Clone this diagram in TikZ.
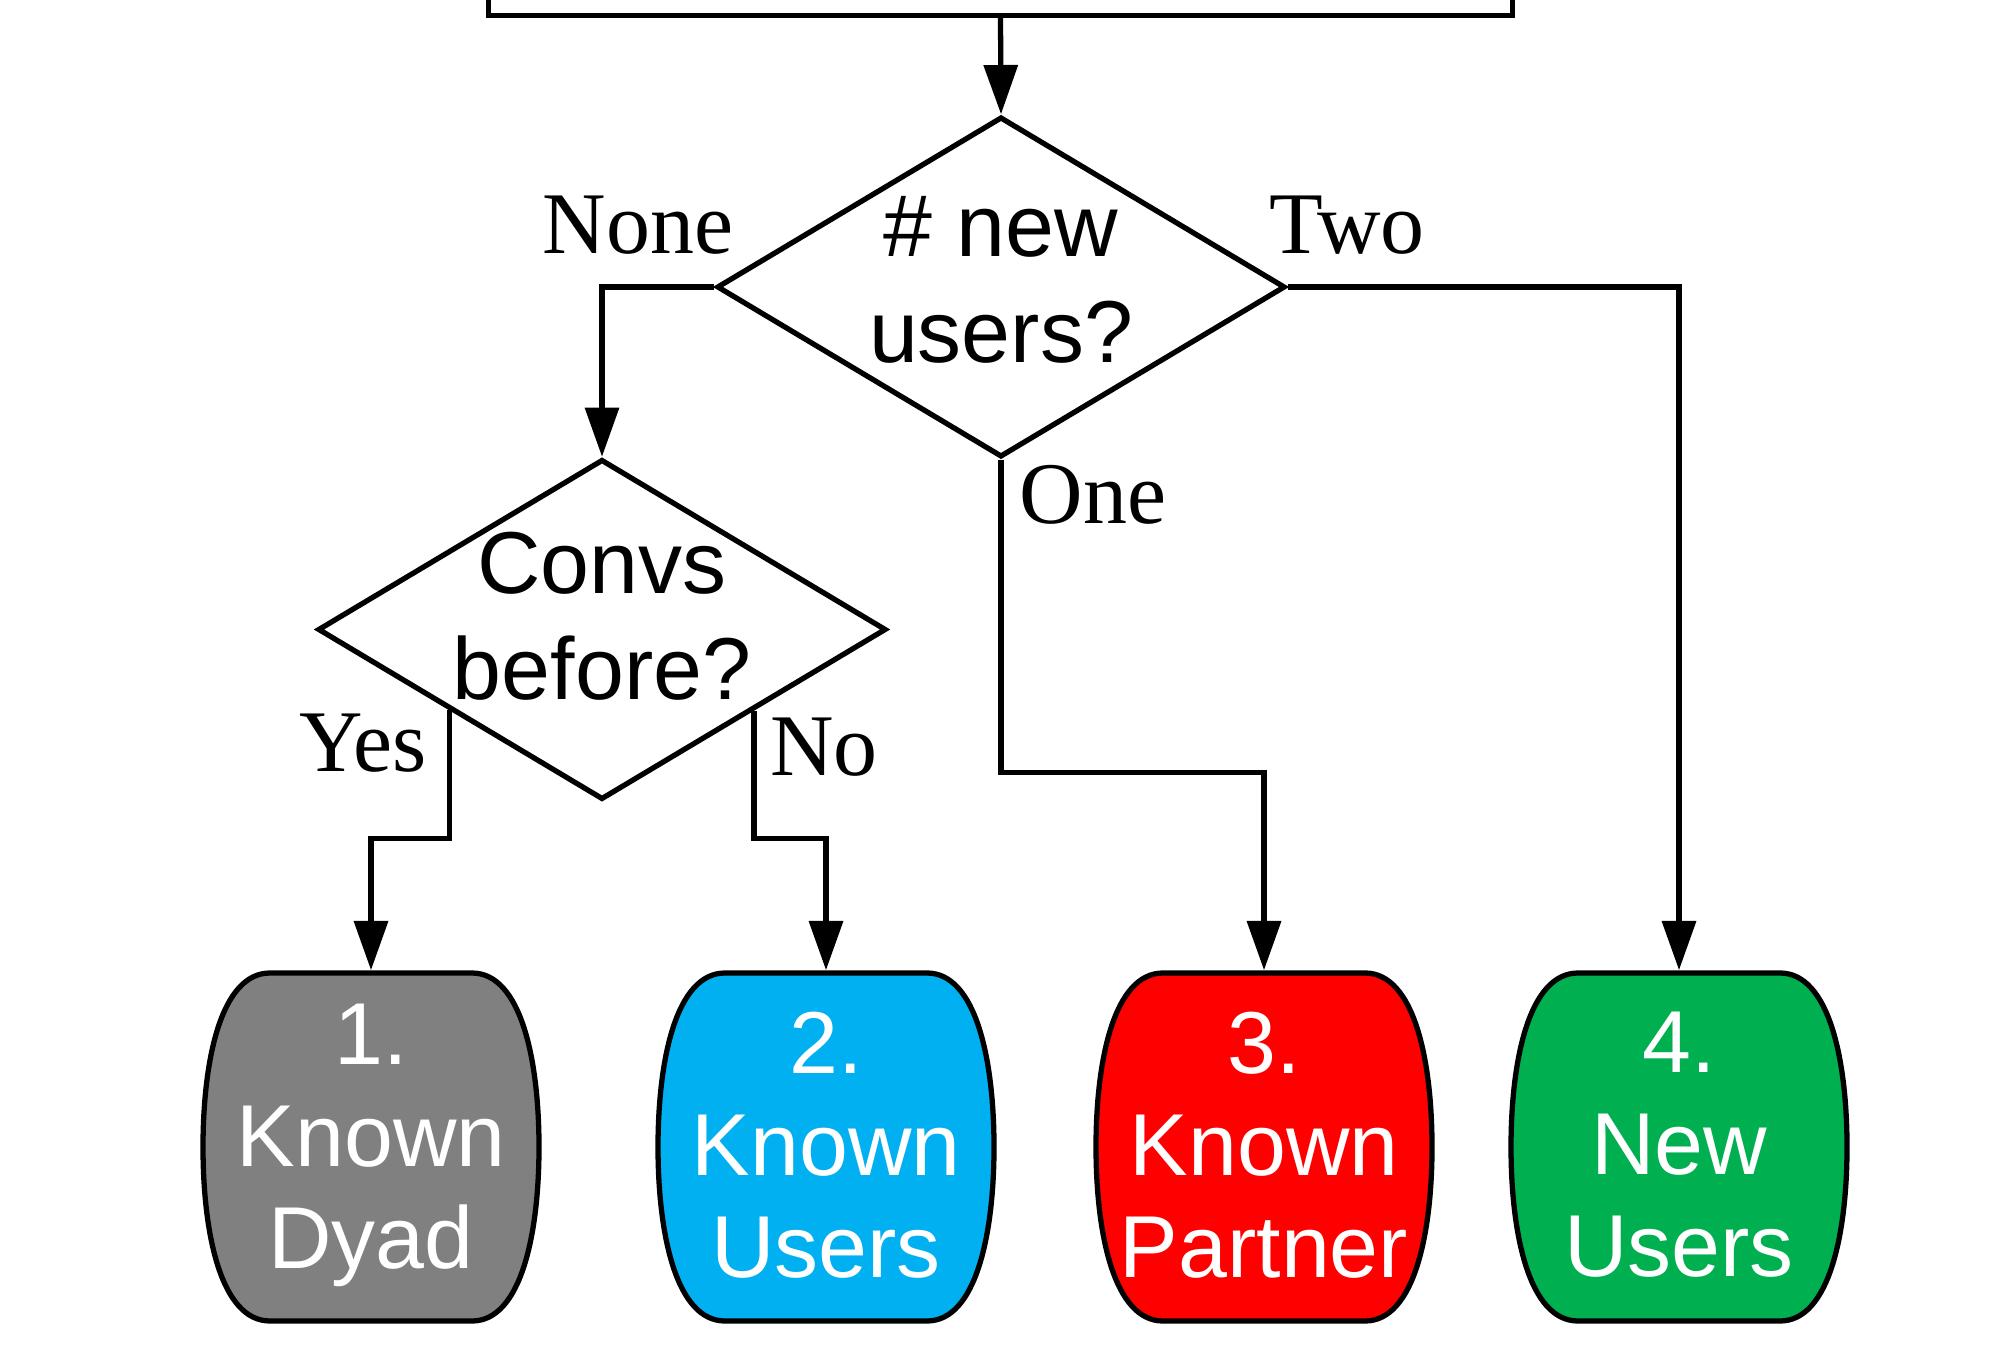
\documentclass[tikz,border=0pt]{standalone}
\usepackage{fontspec}
\setmainfont{Liberation Serif}
\setsansfont{Liberation Sans}
\usetikzlibrary{shapes.geometric,arrows.meta,calc}
\definecolor{tgray}{HTML}{808080}
\definecolor{tblue}{HTML}{00B0F0}
\definecolor{tred}{HTML}{FF0000}
\definecolor{tgreen}{HTML}{00B050}
\tikzset{
  line/.style={line width=1.5pt, draw=black},
  arr/.style={line, -{Triangle[length=14pt,width=9.5pt]}},
  decision/.style={diamond, draw=black, line width=1.5pt, inner sep=0pt,
    minimum width=5.68cm, minimum height=3.40cm},
  dtext/.style={align=center, inner sep=0pt, font=\sffamily\fontsize{25}{30}\selectfont},
  lbl/.style={anchor=base, inner sep=0pt, font=\fontsize{25}{30}\selectfont},
  termtext/.style={minimum width=3.36cm, minimum height=3.48cm, inner sep=0pt,
    align=center, text=white, font=\sffamily\fontsize{25}{29}\selectfont},
}
\newcommand\mybarrel[4]{%
  \path[draw=black, line width=1.5pt, fill=#2]
    (#1-101,973) -- (#1+101,973)
    .. controls (#1+150,973) and (#1+168,1060) .. (#1+168,1147)
    .. controls (#1+168,1234) and (#1+150,1321) .. (#1+101,1321)
    -- (#1-101,1321)
    .. controls (#1-150,1321) and (#1-168,1234) .. (#1-168,1147)
    .. controls (#1-168,1060) and (#1-150,973) .. (#1-101,973) -- cycle;
  \node[termtext] (#3) at (#1,1145) {#4};
}
\begin{document}
\begin{tikzpicture}[x=0.01cm, y=-0.01cm]
\path[use as bounding box, clip] (0,0) rectangle (1992,1368);
\fill[white] (0,0) rectangle (1992,1368);

% top box (mostly outside the view)
\node[draw=black, line width=1.5pt, minimum width=10.23cm, minimum height=3cm,
  anchor=south, inner sep=0pt] (top) at (1000.5,18) {};

% decisions
\node[decision] (d1) at (1001,287) {};
\node[dtext] (d1t) at (1001,280) {\# new\\users?};
\node[decision] (d2) at (602,629.5) {};
\node[dtext] (d2t) at (602,616) {Convs\\before?};

% terminals
\mybarrel{371}{tgray}{t1}{1.\\Known\\Dyad}
\mybarrel{826}{tblue}{t2}{2.\\Known\\Users}
\mybarrel{1264}{tred}{t3}{3.\\Known\\Partner}
\mybarrel{1679}{tgreen}{t4}{4.\\New\\Users}

% connectors
\draw[arr] (top.south) -- (d1.north);
\draw[arr] (d1.west) -| (d2.north);
\draw[arr] (d1.east) -| (t4.north);
\draw[arr] (d1.south) -- ++(0,313) -| (t3.north);
\coordinate (yesstart) at ($(d2.west)!0.468!(d2.south)$);
\coordinate (nostart) at ($(d2.east)!0.47!(d2.south)$);
\draw[arr] (yesstart) |- ($(t1.north)+(0,-132)$) -- (t1.north);
\draw[arr] (nostart) |- ($(t2.north)+(0,-132)$) -- (t2.north);

% labels
\node[lbl] (lnone) at (638,254) {None};
\node[lbl] (ltwo) at (1347,254) {Two};
\node[lbl] (lone) at (1093,524) {One};
\node[lbl] (lyes) at (363,772) {Yes};
\node[lbl] (lno) at (824,776) {No};
\end{tikzpicture}
\end{document}
